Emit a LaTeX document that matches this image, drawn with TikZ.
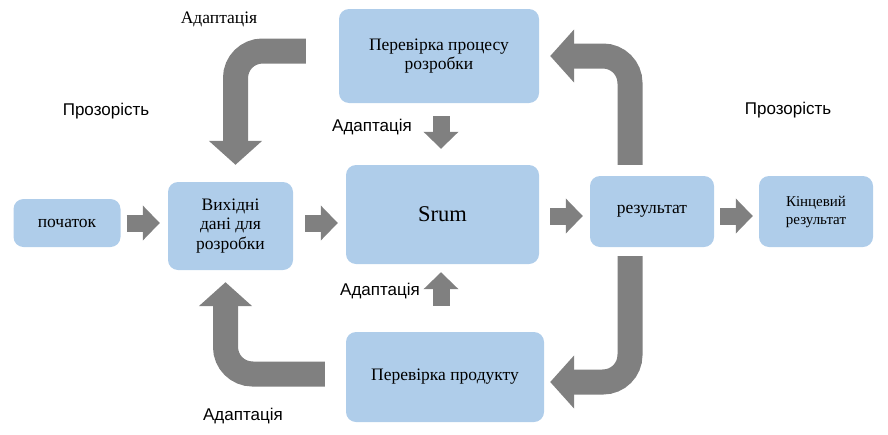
\documentclass[tikz,border=0pt]{standalone}
\usepackage{fontspec}
\setmainfont{Liberation Serif}
\setsansfont{Liberation Sans}
\usetikzlibrary{arrows.meta, positioning}
\definecolor{boxblue}{RGB}{175,205,234}
\definecolor{arrgray}{RGB}{128,128,128}
\tikzset{box/.style={rectangle,fill=boxblue,rounded corners=10pt,align=center,inner sep=2pt,font=\fontsize{17.5}{19.5}\selectfont},flow/.style={draw=arrgray,line width=17pt,-{Triangle[length=17pt,width=34pt]}},loop/.style={draw=arrgray,line width=25pt,rounded corners=27pt,-{Triangle[length=24pt,width=52pt]}},lbl/.style={font=\sffamily\fontsize{17}{19}\selectfont}}

\begin{document}
\begin{tikzpicture}[x=1pt,y=-1pt]
\useasboundingbox (0,0) rectangle (888,434);
\node[box, minimum width=107pt, minimum height=48pt] (start) at (67,223) {початок};
\node[box, minimum width=125pt, minimum height=88pt] (vyh) at (230.5,226) {Вихідні\\дані для\\розробки};
\node[box, minimum width=193pt, minimum height=99pt, font=\fontsize{22.5}{26}\selectfont] (srum) at (442.5,214.5) {Srum};
\node[box, minimum width=200pt, minimum height=94pt] (proc) at (439,56) {Перевірка процесу\\розробки};
\node[box, minimum width=198pt, minimum height=90pt] (prod) at (445,377) {Перевірка продукту};
\node[box, minimum width=124pt, minimum height=71pt] (res) at (652,211.5) {результат};
\node[box, minimum width=114pt, minimum height=71pt, font=\fontsize{15}{18}\selectfont] (fin) at (816,211.5) {Кінцевий\\результат};
\node[lbl] (tr1) at (106,111) {Прозорість};
\node[lbl] (tr2) at (788,110) {Прозорість};
\node[font=\fontsize{17.5}{19}\selectfont] (ad1) at (219,19) {Адаптація};
\node[lbl] (ad2) at (372,127) {Адаптація};
\node[lbl] (ad3) at (380,291) {Адаптація};
\node[lbl] (ad4) at (243,416) {Адаптація};
\draw[flow, shorten <=6pt, shorten >=8pt] (start.east) -- (start.east -| vyh.west);
\draw[flow, shorten <=12pt, shorten >=8pt] ([yshift=3pt]vyh.east) -- ([yshift=3pt]vyh.east -| srum.west);
\draw[flow, shorten <=11pt, shorten >=7pt] ([yshift=-1.5pt]srum.east) -- ([yshift=-1.5pt]srum.east -| res.west);
\draw[flow, shorten <=6pt, shorten >=6pt] ([yshift=-4.5pt]res.east) -- ([yshift=-4.5pt]res.east -| fin.west);
\draw[flow, shorten <=13pt, shorten >=16pt] ([xshift=2pt]proc.south) -- ([xshift=2pt]proc.south |- srum.north);
\draw[flow, shorten <=26pt, shorten >=8pt] ([xshift=-4pt]prod.north) -- ([xshift=-4pt]prod.north |- srum.south);
\draw[loop] ([xshift=-33pt,yshift=5pt]proc.west) -| ([xshift=5pt,yshift=17pt]vyh.north);
\draw[loop] ([xshift=-22pt,yshift=11pt]res.north) |- ([xshift=11pt]proc.east);
\draw[loop] ([xshift=-22pt,yshift=-9pt]res.south) |- ([xshift=6pt,yshift=-5pt]prod.east);
\draw[loop] ([xshift=-21pt,yshift=3pt]prod.west) -| ([xshift=-5pt,yshift=-12pt]vyh.south);
\end{tikzpicture}
\end{document}
